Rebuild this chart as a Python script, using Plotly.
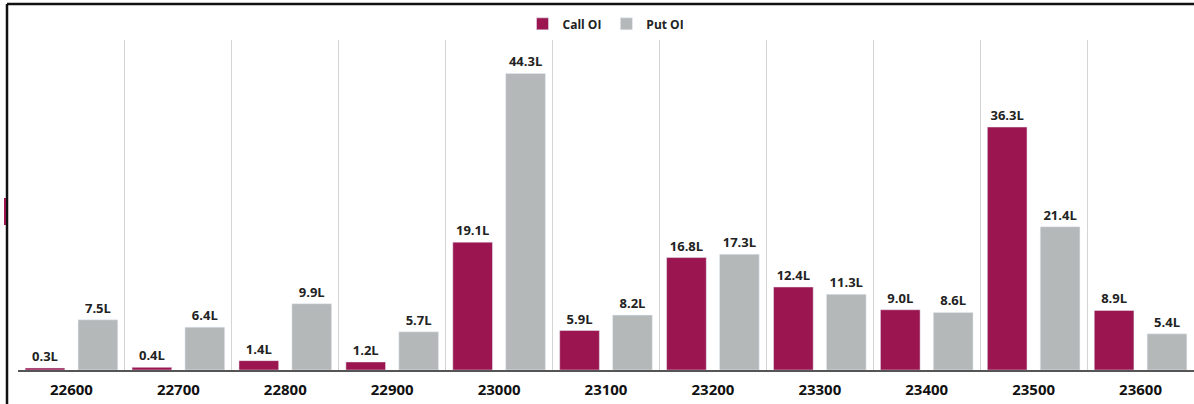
import plotly.graph_objects as go

strikes = ["22600", "22700", "22800", "22900", "23000", "23100", "23200", "23300", "23400", "23500", "23600"]
call_oi = [0.3, 0.4, 1.4, 1.2, 19.1, 5.9, 16.8, 12.4, 9.0, 36.3, 8.9]
put_oi = [7.5, 6.4, 9.9, 5.7, 44.3, 8.2, 17.3, 11.3, 8.6, 21.4, 5.4]

CALL_COLOR = "#9B1550"
PUT_COLOR = "#B5B8B9"
FONT = "Open Sans"

fig = go.Figure()
fig.add_trace(go.Bar(
    name="Call OI", x=strikes, y=call_oi, marker_color=CALL_COLOR,
    text=[f"{v:.1f}L" for v in call_oi], textposition="outside",
    textfont=dict(family=FONT, size=13, color="#222222", weight="bold"),
    cliponaxis=False,
))
fig.add_trace(go.Bar(
    name="Put OI", x=strikes, y=put_oi, marker_color=PUT_COLOR,
    text=[f"{v:.1f}L" for v in put_oi], textposition="outside",
    textfont=dict(family=FONT, size=13, color="#222222", weight="bold"),
    cliponaxis=False,
))

fig.update_layout(
    width=1194, height=404,
    margin=dict(l=18, r=0, t=40, b=34),
    paper_bgcolor="white", plot_bgcolor="white",
    barmode="group", bargap=0.01, bargroupgap=0.25,
    font=dict(family=FONT, color="#222222"),
    legend=dict(orientation="h", x=0.5, xanchor="center", y=1.005, yanchor="bottom",
                font=dict(family=FONT, size=12, color="#222222", weight="bold"),
                traceorder="normal"),
    showlegend=True,
    uniformtext=dict(minsize=13, mode="show"),
)
fig.update_xaxes(
    type="category", tickson="boundaries", showgrid=True, gridcolor="#d4d4d4", gridwidth=1,
    showline=True, linecolor="#555555", linewidth=1.5, ticks="",
    tickfont=dict(family=FONT, size=15, color="#111111", weight="bold"),
    ticklabelstandoff=5,
    zeroline=False,
)
fig.update_yaxes(range=[0, 49.3], showgrid=False, showticklabels=False, zeroline=False, showline=False)

# outer frame lines (top and left)
fig.add_shape(type="line", xref="paper", yref="paper",
              x0=-11/1176, x1=1.01, y0=1 + 36/330, y1=1 + 36/330,
              line=dict(color="#111111", width=2.5))
fig.add_shape(type="line", xref="paper", yref="paper",
              x0=-11/1176, x1=-11/1176, y0=-34/330, y1=1 + 36/330,
              line=dict(color="#111111", width=2.5))
fig.add_shape(type="line", xref="paper", yref="paper",
              x0=-13/1176, x1=-13/1176, y0=1 - 158/330, y1=1 - 185/330,
              line=dict(color="#9B1550", width=2))

fig.write_html("out.html", config={"displayModeBar": False},
               post_script="document.body.style.margin='0';document.body.style.overflow='hidden';")
